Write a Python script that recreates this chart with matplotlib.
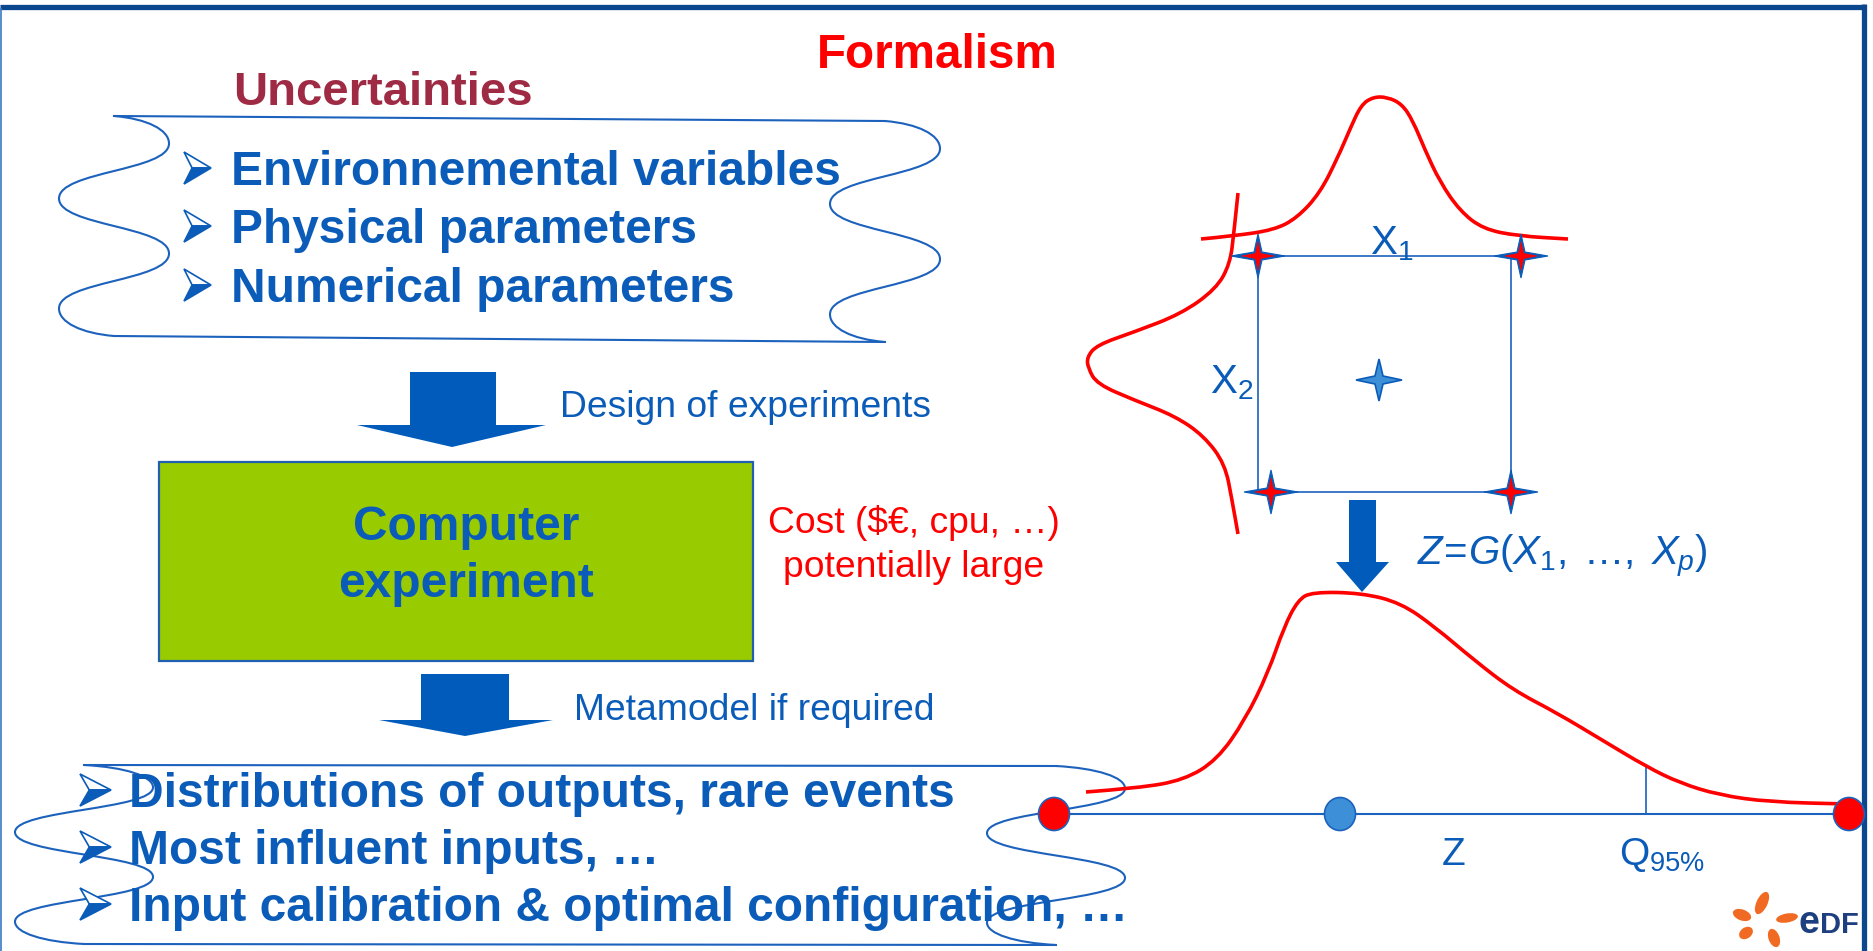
import matplotlib
matplotlib.use('Agg')
import matplotlib.pyplot as plt
from matplotlib.path import Path
from matplotlib.patches import PathPatch, Polygon, Rectangle, Ellipse

plt.rcParams['font.family'] = ['Liberation Sans', 'DejaVu Sans']
plt.rcParams['mathtext.fontset'] = 'custom'
plt.rcParams['mathtext.rm'] = 'Liberation Sans'
plt.rcParams['mathtext.it'] = 'Liberation Sans:italic'
plt.rcParams['mathtext.bf'] = 'Liberation Sans:bold'

BLUE = '#0a5cb8'
LINE = '#1c62bd'
RED = '#ff0000'
FRAME = '#0b478e'
BIG = 34.5
SMALL = 26.8

# texts
uncert_items = ['Environnemental variables', 'Physical parameters', 'Numerical parameters']
output_items = ['Distributions of outputs, rare events', 'Most influent inputs, \u2026',
                'Input calibration & optimal configuration, \u2026']

# densities (pixel coords)
x1_pdf_x = [1201, 1233, 1274, 1297, 1320, 1338, 1350, 1361, 1373, 1387, 1402, 1413, 1425, 1440, 1460, 1483, 1518, 1568]
x1_pdf_y = [239, 236, 230, 218, 193, 157, 129, 105, 97, 97, 104, 121, 150, 182, 211, 229, 236, 239]

x2_pdf_x = [1238, 1234, 1230, 1216, 1181, 1134, 1097, 1087, 1088, 1097, 1134, 1175, 1204, 1225, 1232, 1238]
x2_pdf_y = [193, 232, 264, 289, 314, 332, 345, 357, 368, 384, 400, 416, 436, 464, 500, 534]

z_pdf_x = [1086, 1139, 1184, 1217, 1245, 1268, 1284, 1298, 1312, 1362, 1401, 1435, 1474, 1513, 1557, 1602, 1647, 1680, 1719, 1769, 1847]
z_pdf_y = [792, 788, 780, 760, 720, 673, 627, 600, 592, 593, 603, 627, 660, 690, 713, 740, 767, 783, 795, 802, 804]

# design points
design_x = [1258, 1521, 1271, 1511]
design_y = [256, 256, 492, 492]
center_pt = (1379, 380)

# Z axis points
zaxis_x = [1054, 1340, 1849]
zaxis_col = [RED, '#3d8fd8', RED]
q95_x = 1646


def smooth_path(xs, ys):
    pts = list(zip(xs, ys))
    verts = [pts[0]]
    codes = [Path.MOVETO]
    for i in range(1, len(pts) - 1):
        mid = ((pts[i][0] + pts[i + 1][0]) / 2, (pts[i][1] + pts[i + 1][1]) / 2)
        verts += [pts[i], mid]
        codes += [Path.CURVE3, Path.CURVE3]
    verts.append(pts[-1])
    codes.append(Path.LINETO)
    return Path(verts, codes)


def wave(ax, c, amp, y0, y1):
    h = y1 - y0
    ys = [y0 + h * k / 8 for k in (1, 3, 5, 7)]
    xs = [c + amp, c - amp, c + amp, c - amp]
    verts = [(c, y0), (c + 0.6 * amp, y0 + 0.1 * (ys[0] - y0)),
             (xs[0], ys[0] - 0.5 * (ys[0] - y0)), (xs[0], ys[0])]
    for i in range(3):
        d = ys[i + 1] - ys[i]
        verts += [(xs[i], ys[i] + 0.5 * d), (xs[i + 1], ys[i + 1] - 0.5 * d), (xs[i + 1], ys[i + 1])]
    d = y1 - ys[3]
    verts += [(xs[3], ys[3] + 0.5 * d), (c - 0.6 * amp, y1 - 0.1 * d), (c, y1)]
    codes = [Path.MOVETO] + [Path.CURVE4] * (len(verts) - 1)
    ax.add_patch(PathPatch(Path(verts, codes), fill=False, ec=LINE, lw=1.5))


def scroll(ax, xl, xr, ytl, ytr, ybl, ybr, amp):
    ax.plot([xl, xr], [ytl, ytr], color=LINE, lw=1.5)
    ax.plot([xl, xr], [ybl, ybr], color=LINE, lw=1.5)
    wave(ax, xl, amp, ytl, ybl)
    wave(ax, xr, amp, ytr, ybr)


def bullet(ax, x0, yc, w, h):
    top, tip, bot, notch = (x0, yc - h / 2), (x0 + w, yc), (x0, yc + h / 2), (x0 + w * 0.3, yc)
    ax.add_patch(Polygon([top, tip, notch], closed=True, fc='white', ec=BLUE, lw=1.2, zorder=4))
    ax.add_patch(Polygon([notch, tip, bot], closed=True, fc=BLUE, ec=BLUE, lw=1.2, zorder=4))


def block_arrow(ax, sx0, sx1, stop, sbot, hx0, hx1, tip):
    pts = [(sx0, stop), (sx1, stop), (sx1, sbot), (hx1, sbot), tip, (hx0, sbot), (sx0, sbot)]
    ax.add_patch(Polygon(pts, closed=True, fc='#005bbb', ec='none', zorder=3))


def star(ax, cx, cy, rh, rv, r, fc, ec, lw, z=6):
    pts = [(cx, cy - rv), (cx + r, cy - r), (cx + rh, cy), (cx + r, cy + r),
           (cx, cy + rv), (cx - r, cy + r), (cx - rh, cy), (cx - r, cy - r)]
    ax.add_patch(Polygon(pts, closed=True, fc=fc, ec=ec, lw=lw, zorder=z))


fig = plt.figure(figsize=(18.74, 9.51), dpi=100)
ax = fig.add_axes([0, 0, 1, 1])
ax.set_xlim(0, 1874)
ax.set_ylim(951, 0)
ax.axis('off')

# frame
ax.plot([0, 1865], [6.5, 6.5], color=FRAME, lw=3.8, solid_capstyle='butt')
ax.plot([1864.5, 1864.5], [4, 951], color=FRAME, lw=3.8, solid_capstyle='butt')
ax.plot([1, 1], [9, 951], color='#3b78c4', lw=1.2)

# titles
ax.text(817, 68, 'Formalism', color=RED, fontsize=34.3, fontweight='bold', va='baseline')
ax.text(233, 105, 'Uncertainties', color='#9e2a44', fontsize=34, fontweight='bold', va='baseline')

# uncertainties scroll
scroll(ax, 114, 885, 116, 121, 336, 342, 55)
for item, base in zip(uncert_items, [185, 243, 302]):
    bullet(ax, 184, base - 17, 27, 32)
    ax.text(231, base, item, color=BLUE, fontsize=BIG, fontweight='bold', va='baseline', zorder=5)

# arrows and computer experiment
block_arrow(ax, 410, 496, 372, 425, 357, 546, (452, 447))
ax.text(560, 417, 'Design of experiments', color=BLUE, fontsize=SMALL, va='baseline')
ax.add_patch(Rectangle((159, 462), 594, 199, fc='#99cc00', ec='#2060b0', lw=1.6))
ax.text(466, 540, 'Computer', color=BLUE, fontsize=BIG, fontweight='bold', va='baseline', ha='center')
ax.text(466, 597, 'experiment', color=BLUE, fontsize=BIG, fontweight='bold', va='baseline', ha='center')
ax.text(914, 533, 'Cost ($\u20ac, cpu, \u2026)', color=RED, fontsize=SMALL, va='baseline', ha='center')
ax.text(914, 577, 'potentially large', color=RED, fontsize=SMALL, va='baseline', ha='center')
block_arrow(ax, 421, 509, 674, 720, 379, 553, (465, 736))
ax.text(574, 720, 'Metamodel if required', color=BLUE, fontsize=SMALL, va='baseline')

# outputs scroll
scroll(ax, 84, 1056, 765, 766, 944, 945, 69)
for item, base in zip(output_items, [807, 864, 921]):
    bullet(ax, 80, base - 17, 31, 32)
    ax.text(129, base, item, color=BLUE, fontsize=BIG, fontweight='bold', va='baseline', zorder=5)

# input space
ax.add_patch(Rectangle((1258, 256), 253, 236, fill=False, ec=LINE, lw=1.2))
ax.add_patch(PathPatch(smooth_path(x1_pdf_x, x1_pdf_y), fill=False, ec=RED, lw=2.6, zorder=5))
ax.add_patch(PathPatch(smooth_path(x2_pdf_x, x2_pdf_y), fill=False, ec=RED, lw=2.6, zorder=5))
for x, y in zip(design_x, design_y):
    star(ax, x, y, 27, 22, 4, BLUE, BLUE, 0.8)
    star(ax, x, y, 16, 14, 2.5, RED, RED, 0.5, z=7)
star(ax, center_pt[0], center_pt[1], 23, 21, 4, '#3d8fd8', BLUE, 1.2)
ax.text(1370, 254, r'$\mathregular{X_1}$', color=BLUE, fontsize=29, va='baseline', zorder=8)
ax.text(1210, 393, r'$\mathregular{X_2}$', color=BLUE, fontsize=29, va='baseline', zorder=8)

# model arrow
block_arrow(ax, 1349, 1376, 500, 562, 1336, 1389, (1362, 592))
ax.text(1417, 565, r'$Z\!=\!G(X_1,\;\ldots,\;X_p)$', color=BLUE, fontsize=29, va='baseline')

# output distribution
ax.plot([zaxis_x[0], zaxis_x[-1]], [814, 814], color=LINE, lw=1.5, zorder=4)
ax.plot([q95_x, q95_x], [767, 814], color=LINE, lw=1.2, zorder=4)
ax.add_patch(PathPatch(smooth_path(z_pdf_x, z_pdf_y), fill=False, ec=RED, lw=2.6, zorder=5))
for x, c in zip(zaxis_x, zaxis_col):
    ax.add_patch(Ellipse((x, 814), 31, 33, fc=c, ec=LINE, lw=1.2, zorder=6))
ax.text(1454, 865, 'Z', color=BLUE, fontsize=28, va='baseline', ha='center')
ax.text(1619, 865, r'$\mathregular{Q_{95\%}}$', color=BLUE, fontsize=28, va='baseline')

# edf logo
ORANGE = '#f06a23'
for (px, py, w, h, a) in [(1762, 903, 11, 24, 25), (1742, 915, 19, 11, 20), (1746, 933, 15, 11, -35),
                          (1774, 938, 11, 19, -20), (1787, 918, 22, 9, -10)]:
    ax.add_patch(Ellipse((px, py), w, h, angle=a, fc=ORANGE, ec='none'))
ax.text(1799, 933, 'e', color='#1d3f7f', fontsize=27, fontweight='bold', va='baseline')
ax.text(1820, 933, 'DF', color='#1d3f7f', fontsize=21, fontweight='bold', va='baseline')

fig.savefig('out.png', dpi=100)
